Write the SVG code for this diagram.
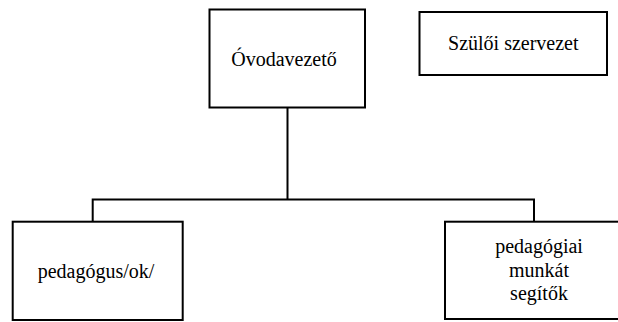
<svg xmlns="http://www.w3.org/2000/svg" width="618" height="322" viewBox="0 0 618 322">
<style>
.box{fill:#fff;stroke:#000;stroke-width:2}
.lbl{font-family:"Liberation Serif","Times New Roman",Times,serif;font-size:20px;fill:#000;text-anchor:middle}
.conn{fill:none;stroke:#000;stroke-width:2}
</style>
<rect width="618" height="322" fill="#fff"/>
<g id="connectors">
<path class="conn" d="M287.5 107.5V199.5M92.7 221.7V199.5H534V221.7"/>
</g>
<g id="ovodavezeto">
<rect class="box" x="209.5" y="9.5" width="155.5" height="98"/>
<text class="lbl" x="284" y="65.7">Óvodavezető</text>
</g>
<g id="szuloi-szervezet">
<rect class="box" x="419.5" y="12" width="187.5" height="63"/>
<text class="lbl" x="513.3" y="50">Szülői szervezet</text>
</g>
<g id="pedagogusok">
<rect class="box" x="12.7" y="221.7" width="170" height="98.3"/>
<text class="lbl" x="96" y="277.7">pedagógus/ok/</text>
</g>
<g id="segitok">
<rect class="box" x="445" y="221.7" width="185" height="97.3"/>
<text class="lbl" x="539" y="253">pedagógiai</text>
<text class="lbl" x="539" y="276.5">munkát</text>
<text class="lbl" x="539" y="300">segítők</text>
</g>
</svg>
